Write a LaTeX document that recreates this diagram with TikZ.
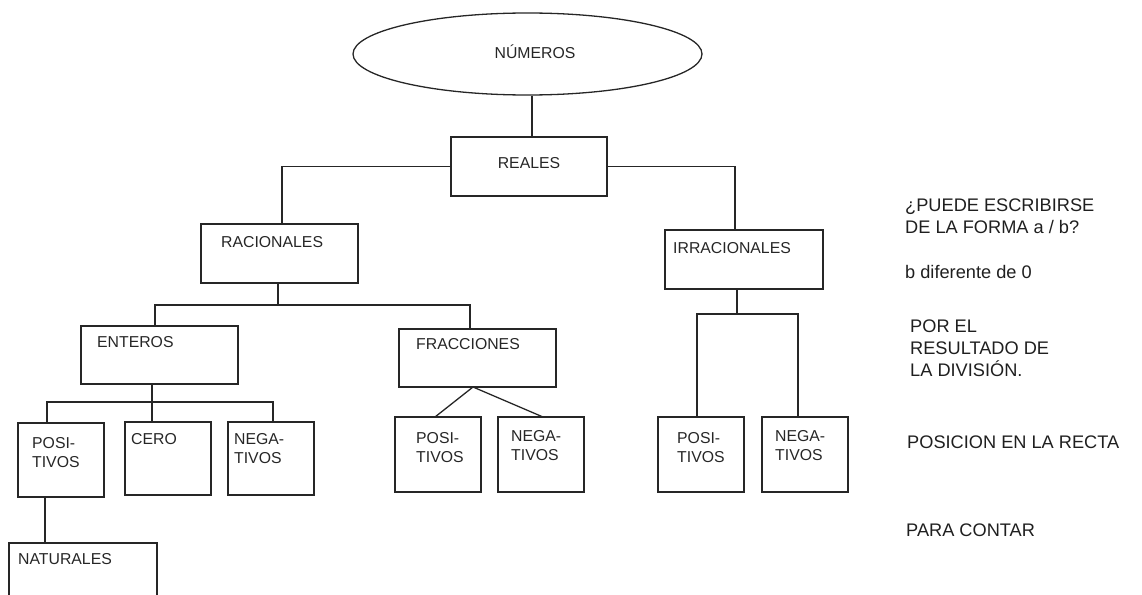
\documentclass[tikz,border=0pt]{standalone}
\usepackage{fontspec}
\setmainfont{Liberation Sans}
\usetikzlibrary{shapes.geometric}
\begin{document}
\begin{tikzpicture}[x=1pt,y=-1pt,
  conn/.style={draw=black!85,line width=1.3pt},
  box/.style={draw=black!85,line width=1.3pt,rectangle,inner sep=0pt,outer sep=0pt},
  smallbox/.style={box,minimum width=86pt,minimum height=74pt},
  wide/.style={box,minimum width=157pt,minimum height=58pt},
  lbl/.style={text=black!85,inner sep=0pt,anchor=west,align=left,font=\fontsize{15.8}{19}\selectfont},
  ctr/.style={text=black!85,inner sep=0pt,font=\fontsize{15.8}{19}\selectfont},
  side/.style={text=black!88,inner sep=0pt,anchor=west,align=left,font=\fontsize{18.2}{22}\selectfont}]
\useasboundingbox (0,0) rectangle (1142,594);
\clip (0,0) rectangle (1142,594);
% shapes
\node[draw=black!85,line width=1.3pt,ellipse,inner sep=0pt,minimum width=349pt,minimum height=82pt] (num) at (527.5,54) {};
\node[box,minimum width=156pt,minimum height=59pt] (rea) at (529,166.5) {};
\node[wide,minimum height=59pt] (rac) at (279.5,253.5) {};
\node[wide,minimum width=158pt,minimum height=59pt] (irr) at (744,259.5) {};
\node[wide] (ent) at (159.5,355) {};
\node[wide] (fra) at (477.5,358) {};
\node[smallbox] (pos1) at (61,460) {};
\node[smallbox,minimum height=73pt] (cer) at (168,458.5) {};
\node[smallbox,minimum height=73pt] (neg1) at (271,458.5) {};
\node[smallbox,minimum height=75pt] (pos2) at (438,454.5) {};
\node[smallbox,minimum height=75pt] (neg2) at (541,454.5) {};
\node[smallbox,minimum height=75pt] (pos3) at (701,454.5) {};
\node[smallbox,minimum height=75pt] (neg3) at (805,454.5) {};
\node[box,minimum width=148pt,minimum height=80pt] (nat) at (83,583) {};
% labels
\node[ctr] (tnum) at (535,52) {NÚMEROS};
\node[ctr] (trea) at (529,163) {REALES};
\node[lbl] (trac) at (221,242) {RACIONALES};
\node[lbl] (tirr) at (673,248) {IRRACIONALES};
\node[lbl] (tent) at (97,342) {ENTEROS};
\node[lbl] (tfra) at (416,344) {FRACCIONES};
\node[lbl] (tpos1) at (32,452.5) {POSI-\\TIVOS};
\node[lbl] (tcer) at (131,439) {CERO};
\node[lbl] (tneg1) at (234,448.5) {NEGA-\\TIVOS};
\node[lbl] (tpos2) at (416,447.5) {POSI-\\TIVOS};
\node[lbl] (tneg2) at (511,446) {NEGA-\\TIVOS};
\node[lbl] (tpos3) at (677,447.5) {POSI-\\TIVOS};
\node[lbl] (tneg3) at (775,446) {NEGA-\\TIVOS};
\node[lbl] (tnat) at (18,559) {NATURALES};
% side notes
\node[side] (s1) at (905,216) {¿PUEDE ESCRIBIRSE\\DE LA FORMA a / b?};
\node[side] (s2) at (905,272) {b diferente de 0};
\node[side] (s3) at (910,348.5) {POR EL\\RESULTADO DE\\LA DIVISIÓN.};
\node[side] (s4) at (907,442) {POSICION EN LA RECTA};
\node[side] (s5) at (906,530) {PARA CONTAR};
% junction coordinates
\coordinate (jr) at (278,305);
\coordinate (je) at (152,402);
\coordinate (ji) at (737,314);
\coordinate (jf) at (473,387);
% connectors
\draw[conn] ([xshift=4.5]num.south) -- ([xshift=3]rea.north);
\draw[conn] (rea.west) -| ([xshift=2.5]rac.north);
\draw[conn] (rea.east) -| ([xshift=-9]irr.north);
\draw[conn] (rac.south -| jr) -- (jr);
\draw[conn] ([xshift=-4.5]ent.north) |- (jr) -| ([xshift=-7.5]fra.north);
\draw[conn] (ent.south -| je) -- (je) -- (cer.north -| je);
\draw[conn] ([xshift=-14]pos1.north) |- (je) -| ([xshift=2]neg1.north);
\draw[conn] ([xshift=-16]pos1.south) -- ([xshift=-38]nat.north);
\draw[conn] (jf) -- ([xshift=-3]pos2.north);
\draw[conn] (jf) -- ([xshift=2]neg2.north);
\draw[conn] (irr.south -| ji) -- (ji);
\draw[conn] ([xshift=-4]pos3.north) |- (ji) -| ([xshift=-7]neg3.north);
\end{tikzpicture}
\end{document}
